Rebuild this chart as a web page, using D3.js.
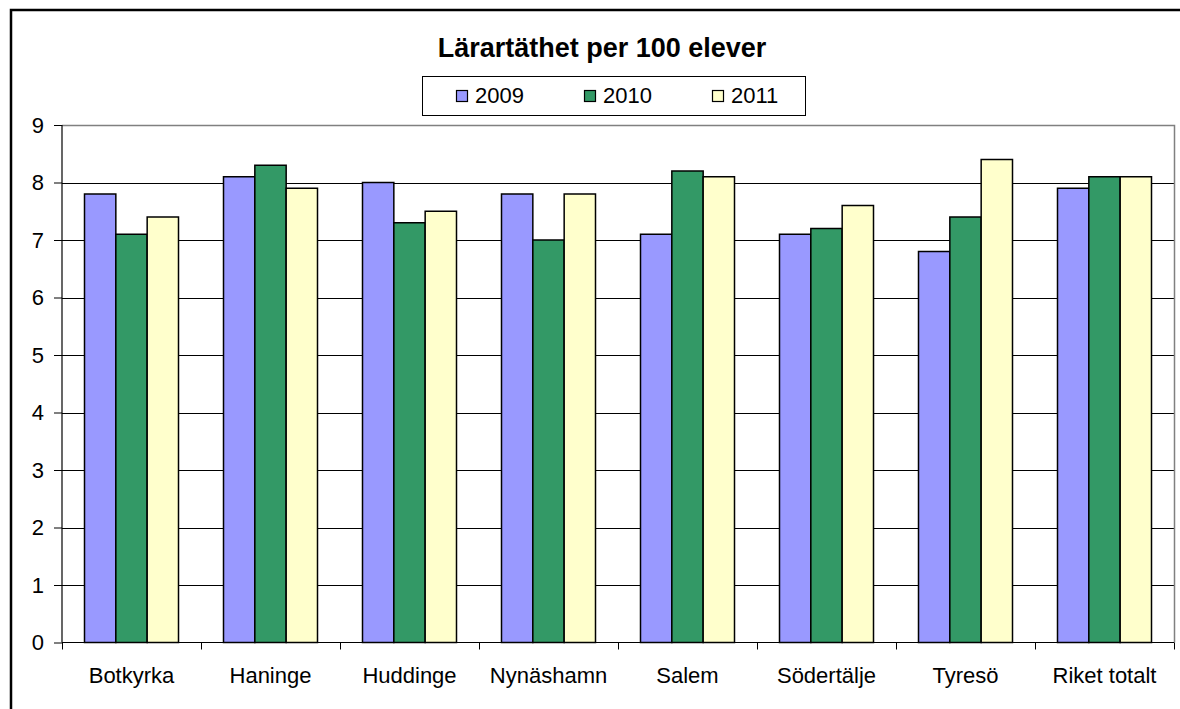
<!DOCTYPE html>
<html>
<head>
<meta charset="utf-8">
<script src="https://cdn.jsdelivr.net/npm/d3@7"></script>
<style>
  html, body { margin: 0; padding: 0; background: #fff; overflow: hidden; }
  svg { display: block; font-family: "Liberation Sans", Arial, sans-serif; }
</style>
</head>
<body>
<svg id="chart" width="1180" height="709"></svg>
<script>
const categories = ["Botkyrka", "Haninge", "Huddinge", "Nynäshamn", "Salem", "Södertälje", "Tyresö", "Riket totalt"];
const seriesNames = ["2009", "2010", "2011"];
const values2009 = [7.8, 8.1, 8.0, 7.8, 7.1, 7.1, 6.8, 7.9];
const values2010 = [7.1, 8.3, 7.3, 7.0, 8.2, 7.2, 7.4, 8.1];
const values2011 = [7.4, 7.9, 7.5, 7.8, 8.1, 7.6, 8.4, 8.1];
const yTicks = [0, 1, 2, 3, 4, 5, 6, 7, 8, 9];
const titleText = "Lärartäthet per 100 elever";
const colors = ["#9999FF", "#339966", "#FFFFCC"];

const seriesValues = [values2009, values2010, values2011];

const svg = d3.select("#chart");

// outer frame (only left and top edges visible in the picture)
svg.append("path")
  .attr("d", "M11,709V10H1180")
  .attr("fill", "none").attr("stroke", "#000").attr("stroke-width", 2.5);

const plot = { left: 62, right: 1174, top: 125, bottom: 642.5 };

const x0 = d3.scaleBand().domain(categories).range([plot.left, plot.right]).padding(0);
const groupPad = 22.5;
const x1 = d3.scaleBand().domain(seriesNames).range([groupPad, x0.bandwidth() - groupPad]).padding(0);
const y = d3.scaleLinear().domain([0, 9]).range([plot.bottom, plot.top]);

// gridlines
svg.append("g").selectAll("line")
  .data(yTicks.filter(t => t > 0 && t < 9))
  .join("line")
  .attr("x1", plot.left).attr("x2", plot.right)
  .attr("y1", d => Math.round(y(d)) + 0.5).attr("y2", d => Math.round(y(d)) + 0.5)
  .attr("stroke", "#000").attr("stroke-width", 1);

// plot frame top & right (gray)
svg.append("path")
  .attr("d", `M${plot.left},${plot.top + 0.5}H${plot.right + 0.5}V${plot.bottom}`)
  .attr("fill", "none").attr("stroke", "#808080").attr("stroke-width", 1.5);

// bars
const groups = svg.append("g").selectAll("g")
  .data(categories)
  .join("g")
  .attr("transform", d => `translate(${x0(d)},0)`);

groups.selectAll("rect")
  .data((c, i) => seriesNames.map((s, j) => ({ s, j, v: seriesValues[j][i] })))
  .join("rect")
  .attr("x", d => x1(d.s))
  .attr("y", d => y(d.v))
  .attr("width", x1.bandwidth())
  .attr("height", d => y(0) - y(d.v))
  .attr("fill", d => colors[d.j])
  .attr("stroke", "#000").attr("stroke-width", 1.5);

// y axis
const yAxis = d3.axisLeft(y).tickValues(yTicks).tickSize(8).tickPadding(10).tickFormat(d3.format("d"));
const gy = svg.append("g").attr("transform", `translate(${plot.left},0)`).call(yAxis);
gy.select(".domain").attr("stroke", "#000").attr("stroke-width", 1.2).attr("d", `M0,${plot.top}V${plot.bottom}`);
gy.selectAll(".tick line").attr("stroke", "#000");
gy.selectAll("text").attr("font-size", 22).attr("font-family", "Liberation Sans, Arial, sans-serif").attr("fill", "#000");

// x axis
const gx = svg.append("g").attr("transform", `translate(0,${plot.bottom})`);
gx.append("line").attr("x1", plot.left).attr("x2", plot.right).attr("y1", 0).attr("y2", 0)
  .attr("stroke", "#000").attr("stroke-width", 1.2);
const boundaries = categories.map(c => x0(c)).concat([x0(categories[categories.length - 1]) + x0.bandwidth()]);
gx.selectAll("line.tk").data(boundaries).join("line").attr("class", "tk")
  .attr("x1", d => Math.round(d) + 0.5).attr("x2", d => Math.round(d) + 0.5)
  .attr("y1", 0).attr("y2", 7).attr("stroke", "#000");
gx.selectAll("text").data(categories).join("text")
  .attr("x", d => x0(d) + x0.bandwidth() / 2)
  .attr("y", 40)
  .attr("text-anchor", "middle")
  .attr("font-size", 22)
  .attr("fill", "#000")
  .text(d => d);

// title
svg.append("text")
  .attr("x", 602).attr("y", 57)
  .attr("text-anchor", "middle")
  .attr("font-size", 27).attr("font-weight", "bold")
  .attr("fill", "#000")
  .text(titleText);

// legend
const legend = svg.append("g");
legend.append("rect")
  .attr("x", 422.5).attr("y", 76.5).attr("width", 383).attr("height", 39)
  .attr("fill", "#fff").attr("stroke", "#000").attr("stroke-width", 1);
const legendX = [456, 584, 712];
const items = legend.selectAll("g.item").data(seriesNames).join("g").attr("class", "item")
  .attr("transform", (d, i) => `translate(${legendX[i]},0)`);
items.append("rect")
  .attr("x", 0.5).attr("y", 90.5).attr("width", 11).attr("height", 11)
  .attr("fill", (d, i) => colors[i]).attr("stroke", "#000").attr("stroke-width", 1.2);
items.append("text")
  .attr("x", 19).attr("y", 103)
  .attr("font-size", 22).attr("fill", "#000")
  .text(d => d);
</script>
</body>
</html>
